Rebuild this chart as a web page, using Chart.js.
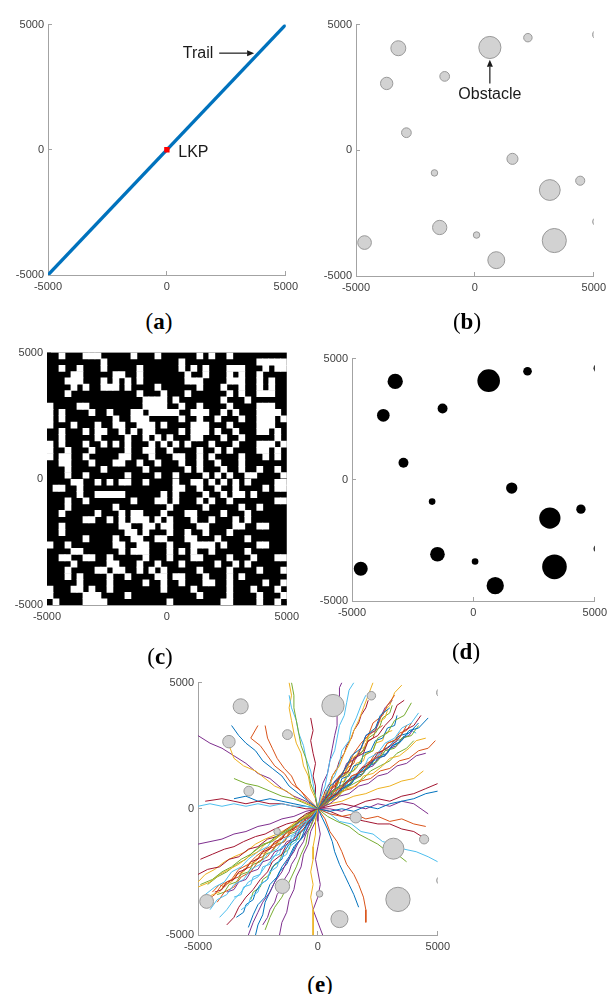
<!DOCTYPE html>
<html>
<head>
<meta charset="utf-8">
<title>Search area maps</title>
<script src="https://cdn.jsdelivr.net/npm/chart.js@4.4.1/dist/chart.umd.min.js"></script>
<style>
  html, body { margin: 0; padding: 0; background: #fff; overflow: hidden; }
  #fig { position: relative; width: 608px; height: 994px; overflow: hidden; background: #fff; }
  .panel { position: absolute; }
  .cap { position: absolute; width: 60px; margin-left: -30px; text-align: center;
         font-family: 'Liberation Serif', 'Times New Roman', serif; font-size: 23px;
         line-height: 24px; color: #000; }
  .cap b { font-weight: bold; }
</style>
</head>
<body>
<div id="fig">
  <div class="panel" style="left:-2px;top:10px;width:309px;height:289px"><canvas id="chartA"></canvas></div>
  <div class="panel" style="left:306px;top:10px;width:309px;height:290px"><canvas id="chartB"></canvas></div>
  <div class="panel" style="left:-3px;top:338px;width:311px;height:291px"><canvas id="chartC"></canvas></div>
  <div class="panel" style="left:302px;top:344px;width:314px;height:281px"><canvas id="chartD"></canvas></div>
  <div class="panel" style="left:148px;top:668px;width:311px;height:291px"><canvas id="chartE"></canvas></div>
  <div class="cap" style="left:159px;top:310px">(<b>a</b>)</div>
  <div class="cap" style="left:467px;top:310px">(<b>b</b>)</div>
  <div class="cap" style="left:160px;top:645px">(<b>c</b>)</div>
  <div class="cap" style="left:466px;top:640px">(<b>d</b>)</div>
  <div class="cap" style="left:320px;top:973px">(<b>e</b>)</div>
</div>
<script>
// ---- Data (metres) ----
const axisTicks = [-5000, 0, 5000];

// (a) straight trail through the last known point
const trailX = [-5000, 5000];
const trailY = [-5000, 5000];
const lkpX = [0];
const lkpY = [0];

// (b), (d), (e) circular obstacles: centre and radius
const obsX = [-3220, 630, 2230, 5150, -1270, -3710, -2880, 1580, -1700, 3150, 4430, 5100, -1480, 70, -4640, 3340, 900];
const obsY = [4060, 4090, 4480, 4600, 2940, 2660, 700, -340, -900, -1580, -1210, -2840, -3070, -3370, -3670, -3590, -4370];
const obsR = [315, 466, 178, 200, 205, 260, 205, 233, 137, 438, 192, 150, 301, 137, 288, 507, 356];

// (c) occupancy grid, 40 x 40 cells, listed top row first: free (white) columns in each row
const gridSize = 40;
const freeCells = [
  [2,6,7,8,14,18,25,27,30],
  [9,22,35,36,37,38,39],
  [2,5,9,15,22,24,26,30,31,32,36,38,39],
  [4,5,11,12,15,23,26,30,32,35],
  [3,4,5,9,11,13,15,23,24,25,30,31,32,35,37],
  [4,6,9,10,11,13,18,25,29,32,35,37],
  [3,15,19,23,30,32,35,36,37],
  [16,17,18,19,21,29,33],
  [0,5,6,16,17,18,19,22,25,30,35,36,37],
  [0,2,7,10,14,15,17,18,19,20,21,24,25,26,29,31,35,36,37,38],
  [0,2,11,14,15,16,22,25,28,32,35,36,37,39],
  [0,4,8,11,12,15,16,17,19,24,25,26,30,35,36,37],
  [2,6,8,9,12,14,16,17,22,24,25,26,28,31,35,36,38],
  [2,8,13,16,18,20,24,25,29,32,38],
  [0,2,6,9,11,13,17,19,21,23,27,31,35,36,37,39],
  [0,3,7,13,16,17,20,25,28,30,35,36,38],
  [0,2,3,6,12,13,17,21,22,25,27,32,36,38],
  [2,3,7,11,12,15,18,22,25,28,32],
  [3,9,16,23,25,29,32,35,38],
  [3,6,13,18,21,26,28,30,33,34,39],
  [4,5,8,10,12,13,16,21,24,25,27,29,31,33,38,39],
  [1,2,5,21,22,25,28,31,36,38,39],
  [5,8,9,10,11,12,19,21,26,29,31,32,34],
  [3,6,14,18,19,21,25,27,30,38,39],
  [3,11,20,26,32,35],
  [2,8,12,14,15,19,23,24,29,33],
  [6,7,10,12,14,15,16,18,20,24,27,31,33],
  [2,12,13,16,17,19,20,25,26,31,32,35,36],
  [2,13,14,16,20,23,26,30],
  [6,11,14,15,18,19,23,24,28,33],
  [0,3,11,12,15,16,20,24,25,26,27,29,35,36],
  [4,5,12,14,15,16,20,22,24,27,33],
  [2,3,6,7,10,16,20,24,25,30,34,38,39],
  [4,10,11,15,18,22,28,31,33],
  [3,8,9,11,12,15,17,19,25,30,35,39],
  [3,5,10,13,18,19,21,22,26,30,32],
  [5,10,16,19,22,26,27,30,36,39],
  [0,4,5,7,10,19,24,30,34,38],
  [0,6,7,8,13,25,30,35,39],
  [1,6,7,8,9,20,29,30,35,38]
];

// (e) simulated lost-person walks from the LKP, as x,y pairs
const walks = [
  [0,0, 300,400, 500,900, 900,1200, 1200,1700, 1400,2100, 1800,2400, 2000,2900, 2400,3200, 2600,3700, 3000,4000],
  [0,0, 400,300, 700,700, 1100,900, 1400,1300, 1900,1500, 2200,1900, 2600,2100, 2900,2600, 3400,2800, 3700,3300],
  [0,0, 200,500, 500,800, 600,1300, 900,1700, 1100,2200, 1300,2600, 1500,3100, 1700,3500, 1900,4000, 2100,4500, 2300,5000],
  [0,0, 500,200, 900,500, 1300,600, 1700,900, 2100,1000, 2500,1300, 2900,1400, 3300,1700, 3700,1800, 4100,2100, 4500,2200],
  [0,0, 300,300, 600,700, 1000,900, 1300,1400, 1600,1600, 1900,2100, 2300,2300, 2500,2800, 2900,3000, 3200,3500, 3600,3700, 3900,4200],
  [0,0, 100,400, 300,900, 400,1400, 500,1900, 700,2300, 800,2800, 900,3300, 1100,3700, 1200,4200, 1300,4700, 1500,5000],
  [0,0, 400,400, 800,600, 1100,1000, 1500,1200, 1800,1600, 2200,1800, 2500,2200, 2900,2400, 3300,2700, 3600,3100, 4000,3300, 4300,3700],
  [0,0, 300,200, 700,500, 1000,800, 1400,1000, 1700,1400, 2100,1600, 2400,2000, 2800,2100, 3100,2500, 3500,2700, 3800,3100, 4200,3200, 4600,3600],
  [0,0, 200,300, 400,700, 800,1000, 1000,1400, 1300,1800, 1500,2200, 1800,2600, 2100,2900, 2300,3400, 2700,3700, 2900,4100, 3200,4500],
  [0,0, 500,300, 800,500, 1200,800, 1600,900, 1900,1300, 2300,1400, 2700,1700, 3000,2000, 3400,2100, 3800,2400, 4100,2700, 4500,2800],
  [0,0, 200,400, 500,600, 700,1100, 1000,1300, 1200,1800, 1600,2000, 1800,2400, 2000,2900, 2400,3100, 2600,3600, 2800,4000, 3100,4300],
  [0,0, 400,200, 700,600, 1100,700, 1400,1100, 1800,1300, 2100,1700, 2500,1900, 2800,2300, 3200,2400, 3500,2800, 3900,2900, 4200,3300],
  [0,0, 300,500, 400,900, 700,1300, 900,1800, 1000,2300, 1300,2700, 1400,3200, 1600,3600, 1800,4100, 2000,4500],
  [0,0, 400,500, 700,800, 900,1300, 1300,1500, 1500,2000, 1900,2200, 2100,2700, 2500,2900, 2800,3300, 3100,3600, 3300,4100, 3600,4300],
  [0,0, 500,400, 900,700, 1200,1100, 1600,1300, 2000,1700, 2300,1900, 2700,2300, 3000,2500, 3400,2900, 3800,3000, 4200,3400],
  [0,0, 300,200, 600,400, 1000,700, 1400,800, 1800,1100, 2200,1200, 2600,1500, 3000,1600, 3400,1900, 3800,2000, 4200,2300, 4600,2400, 4900,2700],
  [0,0, 300,400, 500,800, 800,1200, 1100,1500, 1300,1900, 1700,2200, 1900,2600, 2200,3000, 2500,3300, 2700,3800, 3000,4100, 3200,4600, 3500,4900],
  [0,0, 100,500, 200,1000, 400,1400, 500,1900, 600,2400, 700,2900, 800,3300, 800,3800, 900,4300, 900,4800, 1000,5000],
  [0,0, 400,300, 800,400, 1100,800, 1500,1000, 1900,1200, 2200,1500, 2600,1700, 3000,1900, 3300,2200, 3700,2400, 4000,2700],
  [0,0, 200,200, 500,500, 900,700, 1200,1100, 1500,1300, 1900,1600, 2100,2000, 2500,2200, 2800,2600, 3200,2800, 3500,3200, 3900,3400, 4200,3800],
  [0,0, 500,100, 1000,200, 1500,100, 2000,300, 2500,400, 3000,300, 3500,500, 4000,600, 4500,800, 5000,1000],
  [0,0, 500,-100, 1000,0, 1500,-100, 2000,100, 2500,0, 3000,200, 3500,300, 4000,400, 4500,600, 5000,700],
  [0,0, 500,-200, 1000,-300, 1500,-200, 2000,-400, 2500,-300, 3000,-500, 3500,-400, 4000,-600, 4500,-700],
  [0,0, 500,200, 1000,300, 1500,500, 2000,600, 2500,800, 3000,900, 3500,1100, 4000,1200, 4400,1500],
  [0,0, 500,0, 1000,-100, 1500,100, 2000,0, 2500,200, 3000,100, 3500,300, 4000,200, 4600,-200],
  [0,0, 400,-300, 800,-500, 1300,-700, 1700,-1000, 2100,-1200, 2500,-1400, 2900,-1700, 3300,-1800, 3700,-2100],
  [0,0, 500,-200, 900,-500, 1400,-600, 1800,-900, 2300,-1000, 2700,-1300, 3200,-1400, 3600,-1600, 4100,-1700, 4600,-1900, 5000,-2100],
  [0,0, 500,-100, 1000,-300, 1500,-400, 2000,-500, 2500,-600, 3000,-600, 3500,-800, 4000,-900, 4500,-1200],
  [0,0, 200,-400, 400,-800, 600,-1300, 700,-1700, 900,-2200, 1100,-2600, 1300,-3000, 1500,-3400, 1700,-3900],
  [0,0, 300,-400, 500,-900, 800,-1300, 1000,-1700, 1200,-2200, 1500,-2600, 1700,-3000, 1900,-3500, 2000,-4000, 2000,-4500],
  [0,0, -100,-500, -100,-1000, -200,-1500, -200,-2000, -300,-2500, -200,-3000, -300,-3500, -200,-4000, -200,-4500, -200,-5000],
  [0,0, 0,-500, 100,-1000, 0,-1500, -100,-2000, 0,-2500, 100,-3000, 0,-3500, -200,-4000, 0,-4500, 200,-5000],
  [0,0, -100,500, -300,1000, -400,1500, -500,2000, -700,2500, -800,3000, -900,3500, -1000,4000, -1000,4500, -1100,5000],
  [0,0, -100,500, -200,1000, -300,1500, -500,2000, -600,2500, -800,3000, -900,3500, -1100,4000, -1200,4500],
  [0,0, -100,400, -100,900, -200,1300, -100,1800, -200,2200, -300,2700, -200,3100, -300,3600],
  [0,0, -400,300, -800,600, -1200,900, -1500,1300, -1900,1600, -2300,1900, -2600,2300, -3000,2600, -3300,2900, -3600,3300],
  [0,0, -400,300, -700,700, -1100,1000, -1400,1400, -1800,1700, -2100,2100, -2400,2500, -2800,2800, -2500,3300],
  [0,0, -400,200, -900,400, -1300,700, -1800,900, -2200,1200, -2600,1500, -3100,1700, -3500,2000, -3700,2500],
  [0,0, -500,300, -1000,500, -1500,800, -2000,1200, -2500,1400, -3000,1800, -3500,2100, -4000,2400, -4500,2600, -5000,2900],
  [0,0, -500,200, -1000,400, -1500,500, -2000,700, -2500,900, -3000,1000, -3500,1200],
  [0,0, -500,100, -1000,100, -1500,200, -2000,100, -2500,200, -3000,100, -3500,200, -4000,100, -4500,200, -5000,100],
  [0,0, -500,0, -1000,100, -1500,200, -2000,200, -2500,300, -3000,200, -3500,300, -4000,400, -4700,300],
  [0,0, -500,100, -1000,200, -1500,300, -2000,400, -2500,300, -3000,500, -3500,400],
  [0,0, -300,300, -600,600, -900,900, -1100,1300, -1400,1600, -1700,2000, -1900,2400, -2100,2800, -2200,3300],
  [0,0, -100,400, -300,800, -400,1300, -600,1700, -700,2200, -900,2600, -1000,3000, -1100,3500, -1200,4000, -1100,4500, -1200,5000],
  [0,0, -500,-100, -1000,-300, -1500,-400, -2000,-600, -2500,-700, -3000,-900, -3500,-1000, -4000,-1200, -4500,-1300, -5000,-1400],
  [0,0, -400,-300, -800,-500, -1200,-800, -1600,-1000, -2000,-1300, -2400,-1500, -2800,-1800, -3200,-2000, -3600,-2300, -4000,-2500, -4400,-2800, -4900,-3000],
  [0,0, -300,-400, -700,-600, -1000,-1000, -1400,-1200, -1700,-1600, -2100,-1800, -2400,-2200, -2800,-2400, -3100,-2800, -3500,-3000, -3800,-3400, -4200,-3600, -4500,-4000],
  [0,0, -500,-200, -900,-500, -1300,-600, -1800,-800, -2200,-1000, -2600,-1100, -3100,-1300, -3500,-1500, -3900,-1600, -4400,-1800, -4900,-2000],
  [0,0, -200,-400, -500,-700, -700,-1200, -1000,-1500, -1200,-1900, -1500,-2300, -1700,-2700, -2000,-3000, -2200,-3500, -2500,-3800, -2700,-4200, -2900,-4700],
  [0,0, -400,-400, -700,-700, -1100,-900, -1400,-1300, -1800,-1500, -2100,-1900, -2500,-2100, -2800,-2500, -3200,-2700, -3500,-3100, -3900,-3300, -4200,-3700],
  [0,0, -300,-200, -700,-400, -1100,-700, -1400,-900, -1800,-1200, -2200,-1400, -2500,-1700, -2900,-1900, -3300,-2200, -3700,-2400, -4100,-2600, -4500,-2900, -5000,-3100],
  [0,0, -300,-500, -500,-900, -800,-1300, -1000,-1700, -1300,-2100, -1500,-2500, -1800,-2900, -2000,-3300, -2300,-3700, -2500,-4100, -2700,-4500, -2900,-5000],
  [0,0, -400,-200, -800,-400, -1100,-800, -1500,-1000, -1900,-1300, -2300,-1400, -2700,-1700, -3000,-2000, -3400,-2200, -3800,-2500, -4200,-2700, -4600,-3000],
  [0,0, -300,-300, -600,-700, -900,-1000, -1200,-1400, -1600,-1600, -1900,-2000, -2200,-2300, -2500,-2700, -2900,-2900, -3200,-3300, -3500,-3600, -3800,-4000, -4100,-4300],
  [0,0, -500,-300, -900,-600, -1300,-800, -1700,-1100, -2100,-1200, -2500,-1500, -2900,-1600, -3300,-1900, -3700,-2000, -4100,-2300, -4600,-2400, -5000,-2600],
  [0,0, -200,-300, -400,-700, -600,-1100, -900,-1400, -1100,-1800, -1300,-2200, -1600,-2500, -1800,-2900, -2000,-3300, -2200,-3700, -2300,-4200, -2500,-4600, -2600,-5000],
  [0,0, -400,-300, -700,-600, -1100,-800, -1500,-1100, -1800,-1400, -2200,-1600, -2600,-1900, -2900,-2200, -3300,-2400, -3600,-2800, -4000,-3000, -4300,-3400, -4600,-3600],
  [0,0, -400,-300, -900,-500, -1300,-800, -1700,-1000, -2200,-1200, -2600,-1400, -3000,-1700, -3500,-1900, -3900,-2100, -4300,-2400, -4700,-2600, -5000,-2900],
  [0,0, -100,-500, -300,-900, -400,-1400, -600,-1800, -700,-2300, -900,-2700, -1000,-3200, -1200,-3600, -1300,-4100, -1500,-4500, -1600,-5000],
  [0,0, -200,-500, -400,-900, -500,-1400, -700,-1800, -900,-2300, -1100,-2700, -1300,-3100, -1500,-3500, -1800,-3900, -2000,-4300, -2200,-4800],
  [0,0, -300,-200, -700,-500, -1000,-700, -1400,-1000, -1800,-1100, -2100,-1500, -2500,-1700, -2900,-2000, -3200,-2300, -3600,-2500, -3900,-2900, -4300,-3100, -4700,-3400],
  [0,0, -300,-400, -600,-800, -900,-1100, -1300,-1400, -1500,-1800, -1900,-2100, -2100,-2500, -2400,-2800, -2700,-3200, -3000,-3500, -3300,-3900, -3500,-4300, -3800,-4600],
  [0,0, 200,300, 500,400, 600,700, 900,900, 1000,1200, 1300,1300, 1500,1700, 1800,1800, 1900,2200, 2200,2300, 2400,2700, 2700,2800, 2900,3200, 3200,3300, 3300,3700],
  [0,0, 300,200, 400,500, 700,600, 900,900, 1200,1000, 1400,1300, 1700,1400, 1900,1700, 2200,1900, 2400,2200, 2700,2300, 2900,2600, 3200,2700, 3400,3000, 3700,3100, 3900,3400],
  [0,0, 100,300, 400,500, 500,800, 800,1000, 900,1300, 1200,1500, 1300,1800, 1600,2000, 1700,2300, 2000,2500, 2100,2900, 2400,3100, 2500,3400, 2800,3600, 2900,3900],
  [0,0, 300,100, 500,400, 800,500, 1000,800, 1300,900, 1500,1200, 1800,1300, 2000,1600, 2300,1700, 2500,2000, 2800,2100, 3000,2400, 3300,2500, 3500,2800, 3800,2900, 4000,3200],
  [0,0, 200,200, 300,500, 600,600, 800,900, 900,1200, 1200,1400, 1400,1700, 1500,2000, 1800,2200, 2000,2500, 2100,2800, 2400,3000, 2600,3300, 2700,3600, 3000,3800, 3100,4100],
  [0,0, 300,300, 600,400, 800,700, 1100,800, 1300,1100, 1600,1200, 1800,1500, 2100,1600, 2300,1900, 2600,2000, 2800,2300, 3100,2400, 3300,2700, 3600,2800, 3900,3100, 4100,3000],
  [0,0, 200,400, 300,700, 500,1000, 600,1300, 800,1600, 900,1900, 1100,2200, 1200,2500, 1400,2800, 1500,3100, 1700,3400, 1800,3700, 2000,4000, 2100,4300],
  [0,0, 400,200, 600,500, 900,600, 1100,900, 1400,1000, 1600,1300, 1900,1400, 2100,1700, 2400,1800, 2600,2100, 2900,2200, 3100,2500, 3400,2600, 3600,2900],
  [0,0, 100,200, 400,400, 500,700, 700,900, 800,1200, 1100,1300, 1200,1600, 1500,1800, 1600,2100, 1900,2300, 2000,2600, 2300,2800, 2400,3100, 2700,3300],
  [0,0, 300,300, 400,600, 700,700, 800,1000, 1100,1100, 1200,1400, 1500,1500, 1600,1800, 1900,1900, 2000,2200, 2300,2300, 2400,2600, 2700,2700, 2800,3000, 3100,3100],
  [0,0, -200,-300, -500,-400, -600,-700, -900,-900, -1000,-1200, -1300,-1300, -1500,-1600, -1800,-1700, -2000,-2000, -2300,-2100, -2500,-2400, -2800,-2500, -3000,-2800, -3300,-2900, -3500,-3200, -3800,-3300],
  [0,0, -300,-200, -400,-500, -700,-600, -900,-900, -1200,-1000, -1400,-1300, -1700,-1400, -1900,-1700, -2200,-1800, -2400,-2100, -2700,-2200, -2900,-2500, -3200,-2600, -3400,-2900, -3700,-3000, -3900,-3300, -4200,-3400],
  [0,0, -100,-300, -400,-500, -500,-800, -800,-1000, -900,-1300, -1200,-1500, -1300,-1800, -1600,-2000, -1700,-2300, -2000,-2500, -2100,-2800, -2400,-3000, -2500,-3300, -2800,-3500, -2900,-3800, -3200,-4000],
  [0,0, -300,-100, -500,-400, -800,-500, -1000,-800, -1300,-900, -1500,-1200, -1800,-1300, -2000,-1600, -2300,-1700, -2500,-2000, -2800,-2100, -3000,-2400, -3300,-2500, -3500,-2800, -3800,-2900, -4000,-3200, -4300,-3300],
  [0,0, -200,-200, -300,-500, -600,-600, -800,-900, -900,-1200, -1200,-1400, -1400,-1700, -1500,-2000, -1800,-2200, -2000,-2500, -2100,-2800, -2400,-3000, -2600,-3300, -2700,-3600, -3000,-3800, -3100,-4100, -3400,-4300],
  [0,0, -300,-300, -600,-400, -800,-700, -1100,-800, -1300,-1100, -1600,-1200, -1800,-1500, -2100,-1600, -2300,-1900, -2600,-2000, -2800,-2300, -3100,-2400, -3300,-2700, -3600,-2800, -3900,-3100, -4100,-3000, -4400,-3300],
  [0,0, -400,-200, -600,-500, -900,-600, -1100,-900, -1400,-1000, -1600,-1300, -1900,-1400, -2100,-1700, -2400,-1800, -2600,-2100, -2900,-2200, -3100,-2500, -3400,-2600, -3600,-2900, -3900,-3000, -4100,-3300, -4400,-3400, -4700,-3600],
  [0,0, -200,-400, -300,-700, -500,-1000, -600,-1300, -800,-1600, -900,-1900, -1100,-2200, -1200,-2500, -1400,-2800, -1500,-3100, -1700,-3400, -1800,-3700, -2000,-4000, -2100,-4300, -2300,-4600],
  [0,0, -100,-200, -400,-400, -500,-700, -700,-900, -800,-1200, -1100,-1300, -1200,-1600, -1500,-1800, -1600,-2100, -1900,-2300, -2000,-2600, -2300,-2800, -2400,-3100, -2700,-3300, -2800,-3600],
  [0,0, -300,-300, -400,-600, -700,-700, -800,-1000, -1100,-1100, -1200,-1400, -1500,-1500, -1600,-1800, -1900,-1900, -2000,-2200, -2300,-2300, -2400,-2600, -2700,-2700, -2800,-3000, -3100,-3100, -3200,-3400, -3500,-3500]
];
const walkColors = ['#0072BD', '#D95319', '#EDB120', '#7E2F8E', '#77AC30', '#4DBEEE', '#A2142F'];

// ---- Shared styling ----
const tickFont = { family: "'Liberation Sans', Arial, sans-serif", size: 11 };
const axisGrey = '#a3a3a3';
const plotWidthC = 245;   // pixel width of the grid panel's plot area

function axisCfg(isX) {
  return {
    type: 'linear', min: -5000, max: 5000, offset: false,
    afterBuildTicks: s => { s.ticks = axisTicks.map(v => ({ value: v })); },
    afterFit: s => { if (isX) { s.height = 24; } else { s.width = 50; } },
    grid: { display: true, drawOnChartArea: false, drawTicks: true, tickLength: -4,
            color: axisGrey, lineWidth: 1, offset: false },
    border: { display: true, color: axisGrey, width: 1 },
    ticks: { font: tickFont, color: '#404040', padding: isX ? 9 : 8, maxRotation: 0,
             autoSkip: false, callback: v => String(v) }
  };
}

function baseOptions() {
  return {
    responsive: true, maintainAspectRatio: false, animation: false, events: [],
    layout: { padding: { left: 0, top: 10, right: 16, bottom: 0 } },
    plugins: { legend: { display: false }, tooltip: { enabled: false } },
    scales: { x: axisCfg(true), y: axisCfg(false) }
  };
}

function obstacleSet(fill, stroke) {
  return {
    type: 'scatter',
    data: obsX.map((x, i) => ({ x: x, y: obsY[i] })),
    pointStyle: 'circle',
    pointRadius: ctx => {
      const s = ctx.chart.scales.x;
      return Math.abs(s.getPixelForValue(obsR[ctx.dataIndex]) - s.getPixelForValue(0));
    },
    pointBackgroundColor: fill,
    pointBorderColor: stroke,
    pointBorderWidth: stroke ? 1 : 0,
    showLine: false,
    clip: 0,
    order: 0
  };
}

function arrow(ctx, x1, y1, x2, y2) {
  const ang = Math.atan2(y2 - y1, x2 - x1);
  const head = 7, half = 3;
  ctx.beginPath();
  ctx.moveTo(x1, y1);
  ctx.lineTo(x2 - head * Math.cos(ang), y2 - head * Math.sin(ang));
  ctx.stroke();
  ctx.beginPath();
  ctx.moveTo(x2, y2);
  ctx.lineTo(x2 - head * Math.cos(ang) + half * Math.sin(ang), y2 - head * Math.sin(ang) - half * Math.cos(ang));
  ctx.lineTo(x2 - head * Math.cos(ang) - half * Math.sin(ang), y2 - head * Math.sin(ang) + half * Math.cos(ang));
  ctx.closePath();
  ctx.fill();
}

const noteFont = "16px 'Liberation Sans', Arial, sans-serif";

// ---- (a) trail and LKP ----
const notesA = {
  id: 'notesA',
  afterDatasetsDraw(chart) {
    const { ctx, scales: { x, y } } = chart;
    ctx.save();
    ctx.font = noteFont;
    ctx.fillStyle = '#1a1a1a';
    ctx.strokeStyle = '#1a1a1a';
    ctx.lineWidth = 1.2;
    ctx.textBaseline = 'middle';
    ctx.textAlign = 'right';
    ctx.fillText('Trail', x.getPixelForValue(1950), y.getPixelForValue(3860));
    arrow(ctx, x.getPixelForValue(2200), y.getPixelForValue(3860), x.getPixelForValue(3670), y.getPixelForValue(3860));
    ctx.textAlign = 'left';
    ctx.fillText('LKP', x.getPixelForValue(480), y.getPixelForValue(-130));
    ctx.restore();
  }
};

new Chart(document.getElementById('chartA'), {
  type: 'scatter',
  data: {
    datasets: [
      { data: lkpX.map((x, i) => ({ x: x, y: lkpY[i] })), pointStyle: 'rect', pointRadius: 3.8,
        pointBackgroundColor: '#ff0000', pointBorderWidth: 0, order: 0 },
      { data: trailX.map((x, i) => ({ x: x, y: trailY[i] })), showLine: true, borderColor: '#0072BD',
        borderWidth: 3.3, pointRadius: 0, order: 1 }
    ]
  },
  options: baseOptions(),
  plugins: [notesA]
});

// ---- (b) obstacles ----
const notesB = {
  id: 'notesB',
  afterDatasetsDraw(chart) {
    const { ctx, scales: { x, y } } = chart;
    ctx.save();
    ctx.font = noteFont;
    ctx.fillStyle = '#1a1a1a';
    ctx.strokeStyle = '#1a1a1a';
    ctx.lineWidth = 1.2;
    ctx.textBaseline = 'middle';
    ctx.textAlign = 'center';
    ctx.fillText('Obstacle', x.getPixelForValue(obsX[1]), y.getPixelForValue(2200));
    arrow(ctx, x.getPixelForValue(obsX[1]), y.getPixelForValue(2660), x.getPixelForValue(obsX[1]), y.getPixelForValue(3600));
    ctx.restore();
  }
};

new Chart(document.getElementById('chartB'), {
  type: 'scatter',
  data: { datasets: [obstacleSet('#d2d2d2', '#999999')] },
  options: baseOptions(),
  plugins: [notesB]
});

// ---- (c) occupancy grid ----
const blackField = {
  id: 'blackField',
  beforeDatasetsDraw(chart) {
    const { ctx, chartArea: a } = chart;
    ctx.save();
    ctx.fillStyle = '#000';
    ctx.fillRect(a.left, a.top, a.right - a.left, a.bottom - a.top);
    ctx.restore();
  }
};

const cellSpan = 10000 / gridSize;
const cellSets = freeCells.map((cols, r) => ({
  data: cols.map(c => ({ x: -5000 + cellSpan * (c + 0.5), y: [5000 - cellSpan * (r + 1), 5000 - cellSpan * r] })),
  backgroundColor: '#ffffff',
  borderWidth: 0,
  borderSkipped: false,
  grouped: false,
  inflateAmount: 0.3,
  barThickness: plotWidthC / gridSize
}));

new Chart(document.getElementById('chartC'), {
  type: 'bar',
  data: { datasets: cellSets },
  options: baseOptions(),
  plugins: [blackField]
});

// ---- (d) obstacle mask ----
new Chart(document.getElementById('chartD'), {
  type: 'scatter',
  data: { datasets: [obstacleSet('#000000', null)] },
  options: baseOptions()
});

// ---- (e) simulated walks with obstacles ----
const walkSets = walks.map((w, k) => {
  const pts = [];
  for (let i = 0; i < w.length; i += 2) pts.push({ x: w[i], y: w[i + 1] });
  return {
    type: 'scatter', data: pts, showLine: true, borderColor: walkColors[k % walkColors.length],
    borderWidth: 1, pointRadius: 0, tension: 0, clip: 0, order: 1
  };
});

new Chart(document.getElementById('chartE'), {
  type: 'scatter',
  data: { datasets: [obstacleSet('#d2d2d2', '#999999')].concat(walkSets) },
  options: baseOptions()
});
</script>
</body>
</html>
